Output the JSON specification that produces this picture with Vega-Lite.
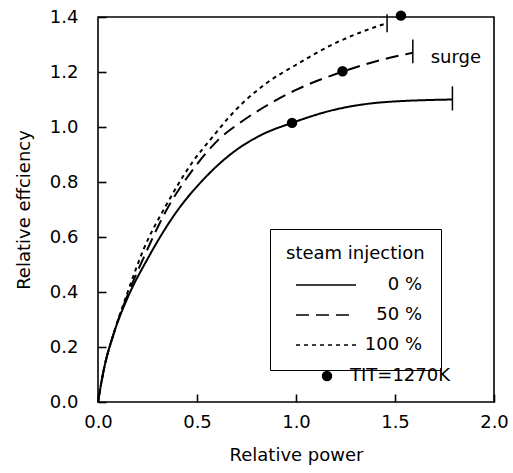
{
  "$schema": "https://vega.github.io/schema/vega-lite/v6.json",
  "width": 396,
  "height": 385,
  "autosize": {"type": "none"},
  "padding": {"left": 98, "top": 17, "right": 19, "bottom": 71},
  "background": "white",
  "config": {
    "font": "DejaVu Sans",
    "view": {"stroke": "black", "strokeWidth": 1.6},
    "axis": {
      "domain": false,
      "grid": false,
      "tickColor": "black",
      "tickSize": 8,
      "tickWidth": 1.6,
      "offset": -8,
      "labelFlush": false,
      "labelOverlap": false,
      "labelFont": "DejaVu Sans",
      "labelFontSize": 18,
      "labelColor": "black",
      "titleFont": "DejaVu Sans",
      "titleFontSize": 18,
      "titleFontWeight": "normal",
      "titleColor": "black"
    },
    "legend": {
      "labelFont": "DejaVu Sans",
      "labelFontSize": 18,
      "labelColor": "black",
      "titleFont": "DejaVu Sans",
      "titleFontSize": 18,
      "titleFontWeight": "normal",
      "titleColor": "black"
    }
  },
  "datasets": {
    "curves": [
      {"power": 0.0, "eff": 0.0, "inj": "0 %"},
      {"power": 0.03, "eff": 0.12, "inj": "0 %"},
      {"power": 0.08, "eff": 0.25, "inj": "0 %"},
      {"power": 0.15, "eff": 0.38, "inj": "0 %"},
      {"power": 0.25, "eff": 0.52, "inj": "0 %"},
      {"power": 0.39, "eff": 0.685, "inj": "0 %"},
      {"power": 0.54, "eff": 0.815, "inj": "0 %"},
      {"power": 0.69, "eff": 0.912, "inj": "0 %"},
      {"power": 0.83, "eff": 0.973, "inj": "0 %"},
      {"power": 0.98, "eff": 1.015, "inj": "0 %"},
      {"power": 1.19, "eff": 1.062, "inj": "0 %"},
      {"power": 1.44, "eff": 1.09, "inj": "0 %"},
      {"power": 1.79, "eff": 1.1, "inj": "0 %"},
      {"power": 0.0, "eff": 0.0, "inj": "50 %"},
      {"power": 0.03, "eff": 0.12, "inj": "50 %"},
      {"power": 0.08, "eff": 0.25, "inj": "50 %"},
      {"power": 0.15, "eff": 0.39, "inj": "50 %"},
      {"power": 0.24, "eff": 0.54, "inj": "50 %"},
      {"power": 0.34, "eff": 0.69, "inj": "50 %"},
      {"power": 0.49, "eff": 0.855, "inj": "50 %"},
      {"power": 0.61, "eff": 0.955, "inj": "50 %"},
      {"power": 0.73, "eff": 1.022, "inj": "50 %"},
      {"power": 0.833, "eff": 1.07, "inj": "50 %"},
      {"power": 1.0, "eff": 1.135, "inj": "50 %"},
      {"power": 1.23, "eff": 1.2, "inj": "50 %"},
      {"power": 1.41, "eff": 1.24, "inj": "50 %"},
      {"power": 1.59, "eff": 1.27, "inj": "50 %"},
      {"power": 0.0, "eff": 0.0, "inj": "100 %"},
      {"power": 0.03, "eff": 0.12, "inj": "100 %"},
      {"power": 0.08, "eff": 0.25, "inj": "100 %"},
      {"power": 0.15, "eff": 0.4, "inj": "100 %"},
      {"power": 0.23, "eff": 0.555, "inj": "100 %"},
      {"power": 0.34, "eff": 0.71, "inj": "100 %"},
      {"power": 0.475, "eff": 0.87, "inj": "100 %"},
      {"power": 0.58, "eff": 0.965, "inj": "100 %"},
      {"power": 0.667, "eff": 1.04, "inj": "100 %"},
      {"power": 0.833, "eff": 1.15, "inj": "100 %"},
      {"power": 1.005, "eff": 1.228, "inj": "100 %"},
      {"power": 1.17, "eff": 1.295, "inj": "100 %"},
      {"power": 1.34, "eff": 1.348, "inj": "100 %"},
      {"power": 1.46, "eff": 1.378, "inj": "100 %"}
    ],
    "dots": [
      {"power": 0.98, "eff": 1.015, "label": "TIT=1270K"},
      {"power": 1.235, "eff": 1.203, "label": "TIT=1270K"},
      {"power": 1.53, "eff": 1.405, "label": "TIT=1270K"}
    ],
    "surge": [
      {"power": 1.79, "lo": 1.06, "hi": 1.148},
      {"power": 1.59, "lo": 1.232, "hi": 1.318},
      {"power": 1.46, "lo": 1.345, "hi": 1.41}
    ],
    "notes": [
      {"power": 1.68, "eff": 1.25, "text": "surge"}
    ]
  },
  "layer": [
    {
      "data": {"name": "curves"},
      "mark": {"type": "line", "interpolate": "monotone", "color": "black", "strokeWidth": 2, "clip": false},
      "encoding": {
        "x": {
          "field": "power", "type": "quantitative",
          "scale": {"domain": [0, 2], "nice": false},
          "axis": {"values": [0, 0.5, 1, 1.5, 2], "format": ".1f", "title": "Relative power", "labelPadding": 11, "titlePadding": 15}
        },
        "y": {
          "field": "eff", "type": "quantitative",
          "scale": {"domain": [0, 1.4], "nice": false},
          "axis": {"values": [0, 0.2, 0.4, 0.6, 0.8, 1.0, 1.2, 1.4], "format": ".1f", "title": "Relative effciency", "labelPadding": 20, "titlePadding": 16}
        },
        "strokeDash": {
          "field": "inj", "type": "nominal",
          "scale": {"domain": ["0 %", "50 %", "100 %"], "range": [[1, 0], [13, 7], [4, 4]]},
          "legend": {
            "title": "steam injection",
            "orient": "none",
            "legendX": 172,
            "legendY": 212,
            "padding": 16,
            "strokeColor": "black",
            "fillColor": "white",
            "symbolType": "M-3,0H3",
            "symbolSize": 400,
            "symbolOffset": 29,
            "symbolStrokeColor": "black",
            "symbolStrokeWidth": 1.5,
            "labelAlign": "right",
            "labelOffset": 85,
            "rowPadding": 10,
            "titlePadding": 11
          }
        },
        "detail": {"field": "inj"}
      }
    },
    {
      "data": {"name": "surge"},
      "mark": {"type": "rule", "color": "black", "strokeWidth": 1.5},
      "encoding": {
        "x": {"field": "power", "type": "quantitative"},
        "y": {"field": "lo", "type": "quantitative"},
        "y2": {"field": "hi"}
      }
    },
    {
      "data": {"name": "dots"},
      "mark": {"type": "point", "filled": true, "color": "black", "size": 110, "opacity": 1, "clip": false},
      "encoding": {
        "x": {"field": "power", "type": "quantitative"},
        "y": {"field": "eff", "type": "quantitative"},
        "shape": {
          "field": "label", "type": "nominal",
          "scale": {"range": ["circle"]},
          "legend": {
            "title": null,
            "orient": "none",
            "legendX": 220,
            "legendY": 350,
            "padding": 0,
            "symbolFillColor": "black",
            "symbolStrokeColor": "black",
            "symbolSize": 110,
            "labelOffset": 14
          }
        }
      }
    },
    {
      "data": {"name": "notes"},
      "mark": {"type": "text", "align": "left", "baseline": "middle", "fontSize": 18, "font": "DejaVu Sans", "color": "black"},
      "encoding": {
        "x": {"field": "power", "type": "quantitative"},
        "y": {"field": "eff", "type": "quantitative"},
        "text": {"field": "text"}
      }
    }
  ]
}
